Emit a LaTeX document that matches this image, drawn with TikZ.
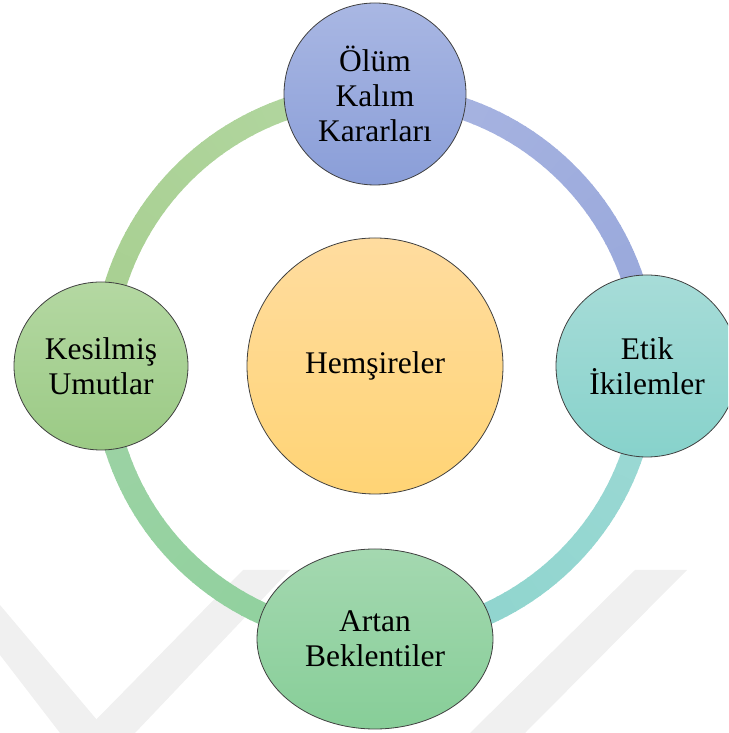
\documentclass[tikz,border=0pt]{standalone}
\usepackage{fontspec}
\setmainfont{Liberation Serif}
\usetikzlibrary{shapes.geometric}
\definecolor{ringTR1}{HTML}{AAB6E2}
\definecolor{ringTR2}{HTML}{96A6DA}
\definecolor{ringBR1}{HTML}{9DD9D5}
\definecolor{ringBR2}{HTML}{8CD4CC}
\definecolor{ringBL1}{HTML}{8DD09C}
\definecolor{ringBL2}{HTML}{9ED3A5}
\definecolor{ringTL1}{HTML}{A6CE8F}
\definecolor{ringTL2}{HTML}{B3D7A1}
\definecolor{topA}{HTML}{A9B7E3}
\definecolor{topB}{HTML}{8A9ED8}
\definecolor{rightA}{HTML}{A7DCD8}
\definecolor{rightB}{HTML}{87D2CB}
\definecolor{botA}{HTML}{A4D8B0}
\definecolor{botB}{HTML}{87CE98}
\definecolor{leftA}{HTML}{B4D8A2}
\definecolor{leftB}{HTML}{9BCA85}
\definecolor{midA}{HTML}{FFDC9F}
\definecolor{midB}{HTML}{FFD475}
\definecolor{wmark}{HTML}{F0F0F0}
\tikzset{
  bubble/.style={ellipse, draw=black!75, line width=0.8pt, shading=axis,
    align=center, inner sep=0pt, font=\fontsize{31.5}{34.7}\selectfont},
  wm/.style={fill=wmark, draw=none},
}
\begin{document}
\begin{tikzpicture}[x=1pt,y=1pt]
\useasboundingbox (0,0) rectangle (728,733);
\clip (0,0) rectangle (728,733);
% faint background watermark
\fill[wm] (0,128) -- (0,78) -- (60,0) -- (108,0) -- cycle;
\fill[wm] (83,0) -- (135,0) -- (290,163) -- (243,163) -- cycle;
\fill[wm] (470,0) -- (525,0) -- (687,163) -- (635,163) -- cycle;
\coordinate (ringc) at (375,367);
% ring segments with gradients
\foreach \s/\cA/\cB in {90/ringTR1/ringTR2, 0/ringBR1/ringBR2, 270/ringBL1/ringBL2, 180/ringTL1/ringTL2}{
  \foreach \i in {0,...,44}{
    \pgfmathtruncatemacro\p{100-\i*100/44}
    \pgfmathsetmacro\a{\s-\i*2}
    \colorlet{segcol}{\cA!\p!\cB}
    \draw[line width=22pt, segcol] (ringc) ++(\a:272) arc[start angle=\a, end angle=\a-2.3, radius=272];
  }
}
\node[bubble, minimum width=256, minimum height=256, top color=midA, bottom color=midB] (mid) at (375,367) {Hemşireler};
\node[bubble, minimum width=182, minimum height=182, top color=topA, bottom color=topB] (top) at (375,639) {Ölüm\\Kalım\\Kararları};
\node[bubble, minimum width=182, minimum height=182, top color=rightA, bottom color=rightB] (right) at (647,367) {Etik\\İkilemler};
\node[bubble, minimum width=236, minimum height=180, top color=botA, bottom color=botB] (bottom) at (375,94) {Artan\\Beklentiler};
\node[bubble, minimum width=174, minimum height=168, top color=leftA, bottom color=leftB] (left) at (101,367) {Kesilmiş\\Umutlar};
\end{tikzpicture}
\end{document}
